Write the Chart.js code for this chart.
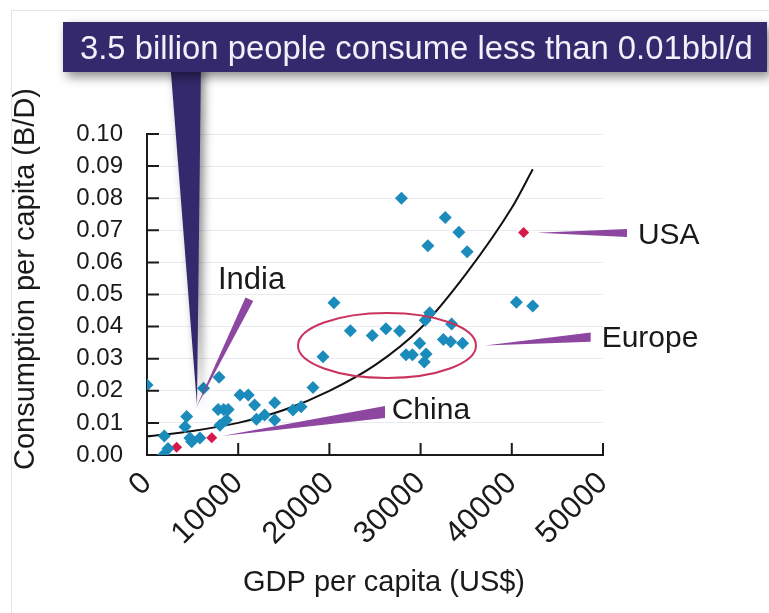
<!DOCTYPE html>
<html>
<head>
<meta charset="utf-8">
<script src="https://cdn.jsdelivr.net/npm/chart.js@4.4.1/dist/chart.umd.min.js"></script>
<style>
  html, body { margin: 0; padding: 0; background: #ffffff; }
  #wrap { width: 769px; height: 613px; }
</style>
</head>
<body>
<div id="wrap"><canvas id="c" width="769" height="613"></canvas></div>
<script>
// ---- data ----
const countryGdp = [0, 1900, 1800, 2300, 4350, 4170, 4700, 4900, 5800, 6200, 7900, 7800, 8400, 8900, 8700, 8000,
  10200, 11100, 11800, 12000, 12900, 14000, 14000, 16000, 16900, 18200,
  27900, 32700, 34200, 30800, 35100, 20500, 40500, 42300, 31000, 30500, 33400, 22300, 26200, 27700,
  24700, 32500, 33300, 34600, 29900, 19300, 28400, 29100, 30600, 30400];
const countryCons = [0.0218, 0.0059, 0.0000, 0.0020, 0.0120, 0.0088, 0.0053, 0.0041, 0.0053, 0.0208, 0.0242, 0.0142, 0.0142, 0.0142, 0.0109, 0.0093,
  0.0187, 0.0187, 0.0156, 0.0111, 0.0125, 0.0163, 0.0109, 0.0140, 0.0150, 0.0210,
  0.0800, 0.0740, 0.0694, 0.0652, 0.0633, 0.0474, 0.0476, 0.0464, 0.0443, 0.0420, 0.0408, 0.0387, 0.0393, 0.0386,
  0.0372, 0.0360, 0.0353, 0.0348, 0.0348, 0.0306, 0.0312, 0.0312, 0.0315, 0.0290];
const highlightNames = ['India', 'China', 'USA'];
const highlightGdp = [3250, 7100, 41300];
const highlightCons = [0.0024, 0.0054, 0.0693];
const trendGdp = [0, 5000, 10000, 15000, 20000, 25000, 30000, 35000, 40000, 42300];
const trendCons = [0.0058, 0.0075, 0.0100, 0.0140, 0.0200, 0.0280, 0.0395, 0.0565, 0.0770, 0.0890];
const xTicks = [0, 10000, 20000, 30000, 40000, 50000];
const yTicks = [0, 0.01, 0.02, 0.03, 0.04, 0.05, 0.06, 0.07, 0.08, 0.09, 0.10];
const bannerText = '3.5 billion people consume less than 0.01bbl/d';
const xTitle = 'GDP per capita (US$)';
const yTitle = 'Consumption per capita (B/D)';
const europeLabel = 'Europe';

const FONT = "'Liberation Sans', Arial, sans-serif";
const PURPLE = '#8e47a0';

function pts(xs, ys) { return xs.map((x, i) => ({ x: x, y: ys[i] })); }

const decor = {
  id: 'decor',
  beforeDraw(chart) {
    const ctx = chart.ctx;
    ctx.save();
    ctx.fillStyle = '#ffffff';
    ctx.fillRect(0, 0, chart.width, chart.height);
    ctx.strokeStyle = '#e4e4e4';
    ctx.lineWidth = 1;
    ctx.beginPath();
    ctx.moveTo(11.5, chart.height); ctx.lineTo(11.5, 10.5); ctx.lineTo(chart.width, 10.5);
    ctx.stroke();
    ctx.restore();
  },
  afterDatasetsDraw(chart) {
    const ctx = chart.ctx;
    const xs = chart.scales.x, ys = chart.scales.y;
    const X = v => xs.getPixelForValue(v);
    const Y = v => ys.getPixelForValue(v);
    const ca = chart.chartArea;
    ctx.save();

    // inside tick marks
    ctx.strokeStyle = '#1a1a1a';
    ctx.lineWidth = 2;
    ctx.beginPath();
    xTicks.forEach(t => { if (t > 0) { ctx.moveTo(X(t), ca.bottom); ctx.lineTo(X(t), ca.bottom - 12); } });
    yTicks.forEach(t => { if (t > 0) { ctx.moveTo(ca.left, Y(t)); ctx.lineTo(ca.left + 12, Y(t)); } });
    ctx.stroke();

    // Europe ellipse
    ctx.strokeStyle = '#c9335e';
    ctx.lineWidth = 2;
    ctx.beginPath();
    ctx.ellipse(X(26316), Y(0.0341), 89, 32.5, 0, 0, Math.PI * 2);
    ctx.stroke();

    // purple pointer wedges
    function wedge(tx, ty, bx1, by1, bx2, by2) {
      ctx.fillStyle = PURPLE;
      ctx.beginPath();
      ctx.moveTo(X(tx), Y(ty));
      ctx.lineTo(X(bx1), Y(by1));
      ctx.lineTo(X(bx2), Y(by2));
      ctx.closePath();
      ctx.fill();
    }
    wedge(8224, 0.0059, 26096, 0.0153, 26096, 0.0115);     // China
    wedge(42763, 0.0692, 52632, 0.0704, 52632, 0.0679);    // USA
    wedge(37061, 0.0341, 48650, 0.0382, 48650, 0.0353);    // Europe
    wedge(5373, 0.01464, 10800, 0.0491, 11650, 0.0480);    // India

    // labels
    ctx.fillStyle = '#1a1a1a';
    ctx.textBaseline = 'alphabetic';
    ctx.textAlign = 'left';
    ctx.font = '31px ' + FONT;
    ctx.fillText(highlightNames[0], X(7783), Y(0.0518));
    ctx.font = '30px ' + FONT;
    ctx.fillText(highlightNames[1], X(26830), Y(0.0112));
    ctx.fillText(highlightNames[2], X(53830), Y(0.0657));
    ctx.fillText(europeLabel, X(49850), Y(0.0337));

    // banner with pointer
    ctx.save();
    ctx.shadowColor = 'rgba(0,0,0,0.45)';
    ctx.shadowBlur = 10;
    ctx.shadowOffsetX = 4;
    ctx.shadowOffsetY = 5;
    ctx.fillStyle = '#34296c';
    ctx.beginPath();
    ctx.moveTo(170, 60);
    ctx.lineTo(201, 60);
    ctx.lineTo(X(5482), Y(0.01558));
    ctx.closePath();
    ctx.fill();
    ctx.fillRect(63, 22, 704, 50);
    ctx.restore();
    ctx.fillStyle = '#34296c';
    ctx.fillRect(63, 22, 704, 50);
    ctx.fillStyle = '#f2f0fa';
    ctx.font = '32.8px ' + FONT;
    ctx.textAlign = 'left';
    ctx.fillText(bannerText, 80, 59);

    // axis titles
    ctx.fillStyle = '#1a1a1a';
    ctx.font = '29px ' + FONT;
    ctx.textAlign = 'center';
    ctx.textBaseline = 'middle';
    ctx.fillText(xTitle, 384, 583);
    ctx.translate(26, 279);
    ctx.rotate(-Math.PI / 2);
    ctx.fillText(yTitle, 0, 0);
    ctx.restore();
  }
};

new Chart(document.getElementById('c'), {
  type: 'scatter',
  data: {
    datasets: [
      {
        label: 'Countries',
        data: pts(countryGdp, countryCons),
        pointStyle: 'rectRot',
        pointRadius: 6.5,
        backgroundColor: '#1a8bbb',
        borderWidth: 0
      },
      {
        label: 'Highlighted',
        data: pts(highlightGdp, highlightCons),
        pointStyle: 'rectRot',
        pointRadius: 5.5,
        backgroundColor: '#d5194a',
        borderWidth: 0
      },
      {
        label: 'Trend',
        type: 'line',
        data: pts(trendGdp, trendCons),
        borderColor: '#111111',
        borderWidth: 2,
        pointRadius: 0,
        fill: false,
        tension: 0.4,
        cubicInterpolationMode: 'monotone'
      }
    ]
  },
  options: {
    responsive: false,
    animation: false,
    devicePixelRatio: 1,
    layout: { padding: { left: 0, right: 166, top: 134, bottom: 0 } },
    plugins: { legend: { display: false }, tooltip: { enabled: false }, title: { display: false } },
    scales: {
      x: {
        type: 'linear',
        min: 0, max: 50000,
        afterBuildTicks: s => { s.ticks = xTicks.map(v => ({ value: v })); },
        afterFit: s => { s.height = 158; },
        grid: { display: false, drawTicks: false },
        border: { display: true, color: '#1a1a1a', width: 2 },
        ticks: {
          minRotation: 45, maxRotation: 45,
          padding: 10,
          color: '#1a1a1a',
          font: { family: FONT, size: 31 },
          callback: v => String(v)
        }
      },
      y: {
        type: 'linear',
        min: 0, max: 0.1,
        afterBuildTicks: s => { s.ticks = yTicks.map(v => ({ value: v })); },
        afterFit: s => { s.width = 147; },
        grid: { display: true, color: '#e9ebf2', lineWidth: 1, drawTicks: false },
        border: { display: true, color: '#1a1a1a', width: 2 },
        ticks: {
          padding: 24,
          color: '#1a1a1a',
          font: { family: FONT, size: 24 },
          callback: v => Number(v).toFixed(2)
        }
      }
    }
  },
  plugins: [decor]
});
</script>
</body>
</html>
